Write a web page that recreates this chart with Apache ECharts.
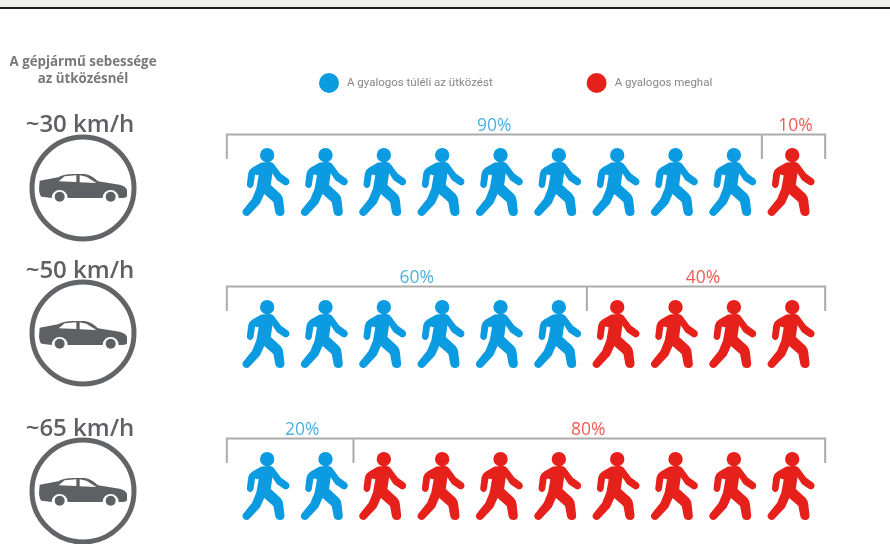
<!DOCTYPE html>
<html><head><meta charset="utf-8">
<style>html,body{margin:0;padding:0;background:#fff}#c{width:890px;height:544px;filter:blur(.45px)}</style>
<script src="https://cdn.jsdelivr.net/npm/echarts@6/dist/echarts.min.js"></script>
</head><body><div id="c"></div>
<script>
const speeds = ['~30 km/h', '~50 km/h', '~65 km/h'];
const survivePct = [90, 60, 20];
const diePct = [10, 40, 80];
const surviveName = 'A gyalogos túléli az ütközést';
const dieName = 'A gyalogos meghal';
const panelTitle = 'A gépjármű sebessége\naz ütközésnél';
const BLUE = '#0b9be0', RED = '#e6201b', GREY = '#5f6064';

const PERSON = 'path://M122 153 L150 152 Q157 153 161 159 L182 187 L205 204 Q211 212 206 219 Q200 226 192 222 L170 208 L156 186 L151 222 L181 250 Q188 258 189 268 L193 303 Q193 316 180 317 Q168 317 165 306 L159 274 L131 250 L118 279 L85 314 Q77 320 69 314 Q61 307 67 298 L94 264 L107 232 L114 192 L103 190 L98 224 Q95 232 88 231 Q77 229 78 219 L82 186 Q84 176 95 169 Z M118 131 A22 22 0 1 1 162 131 A22 22 0 1 1 118 131 Z';

const people = (i, from, n) => Array.from({length: n}, (_, k) => [(from + k) * 10 + 5, speeds[i]]);
const surviveData = speeds.flatMap((_, i) => people(i, 0, survivePct[i] / 10));
const dieData = speeds.flatMap((_, i) => people(i, survivePct[i] / 10, diePct[i] / 10));

// left panel layout (pixel placement of the speed gauges)
const gaugeY = [188, 333, 491], carY = [188, 335, 492], speedLabelY = [125, 271, 429];
const carBody = 'M120 543 L175 533 Q195 523 220 523 L255 523 Q275 525 295 545 L360 555 Q378 560 382 570 L382 590 Q380 595 368 595 L357 595 A24 24 0 0 0 309 595 L204 595 A24 24 0 0 0 156 595 L126 591 Q120 588 118 570 Z';
const carWin = 'M177 545 L195 530 L230 527 L230 547 Z M240 527 L260 531 L290 550 L240 548 Z';
function gauge(params, api) {
  const i = api.value(0), s = speeds[i];
  return {type:'group', children:[
    {type:'text', style:{text:s, x:80, y:speedLabelY[i], align:'center', verticalAlign:'middle',
      font:'600 24px "Open Sans"', fill:GREY}},
    {type:'circle', shape:{cx:83, cy:gaugeY[i], r:51}, style:{fill:'#fff', stroke:'#636468', lineWidth:5}},
    {type:'group', x:83 - 250/3, y:carY[i] - 565/3, scaleX:1/3, scaleY:1/3, children:[
      {type:'path', shape:{pathData:carBody, layout:'cover', x:118, y:523, width:264, height:72}, style:{fill:GREY}},
      {type:'path', shape:{pathData:carWin, layout:'cover', x:177, y:527, width:113, height:23}, style:{fill:'#fff'}},
      {type:'circle', shape:{cx:180, cy:591, r:15}, style:{fill:GREY}},
      {type:'circle', shape:{cx:333, cy:591, r:15}, style:{fill:GREY}}
    ]}
  ]};
}

const labelShift = [[0, 2], [10, -3], [12, -1]];
function brackets(params, api) {
  const i = api.value(0), split = api.value(1), y = api.coord([0, speeds[i]])[1];
  const x0 = api.coord([0, speeds[i]])[0] - 10, x100 = api.coord([100, speeds[i]])[0] + 5;
  const xs = api.coord([split, speeds[i]])[0], top = y - 47.5, bot = y - 23;
  const st = {stroke:'#ababab', lineWidth:2, fill:null};
  const txt = (t, x, c) => ({type:'text', style:{text:t, x, y:top - 8, align:'center', verticalAlign:'middle',
    font:'17.5px "Open Sans"', fill:c}});
  return {type:'group', children:[
    {type:'polyline', shape:{points:[[x0,bot],[x0,top],[x100,top],[x100,bot]]}, style:st},
    {type:'line', shape:{x1:xs, y1:top, x2:xs, y2:bot}, style:st},
    txt(survivePct[i] + '%', (x0 + xs) / 2 + labelShift[i][0], '#4fb1e2'),
    txt(diePct[i] + '%', (xs + x100) / 2 + labelShift[i][1], '#ee5a55')
  ]};
}

const chart = echarts.init(document.getElementById('c'), null, {renderer:'canvas'});
chart.setOption({
  animation:false, backgroundColor:'#fff',
  grid:{left:236.8, width:583.4, top:182, height:304},
  xAxis:{type:'value', min:0, max:100, show:false},
  yAxis:{type:'category', data:speeds, inverse:true, boundaryGap:false, show:false},
  legend:{left:314, top:68, itemWidth:20, itemHeight:20, itemGap:94, icon:'circle',
    data:[surviveName, dieName],
    textStyle:{color:'#85868a', fontSize:11.5, fontFamily:'Roboto', padding:[0,0,0,3]}},
  graphic:{elements:[
    {type:'rect', shape:{x:0,y:0,width:890,height:7}, style:{fill:'#f0f1ec'}},
    {type:'rect', shape:{x:0,y:7,width:890,height:2}, style:{fill:'#1d1d1b'}},
    {type:'text', style:{text:panelTitle, x:83, y:71, align:'center', verticalAlign:'middle', lineHeight:17,
      font:'700 13.3px "Open Sans"', fill:'#77787c'}}
  ]},
  series:[
    {name:surviveName, type:'scatter', data:surviveData, symbol:PERSON, symbolSize:[47,68], itemStyle:{color:BLUE,opacity:1}},
    {name:dieName, type:'scatter', data:dieData, symbol:PERSON, symbolSize:[47,68], itemStyle:{color:RED,opacity:1}},
    {type:'custom', data:survivePct.map((v, i) => [i, v]), renderItem:brackets, clip:false, silent:true,
      encode:{x:1}},
    {type:'custom', coordinateSystem:'none', data:speeds.map((_, i) => [i]), renderItem:gauge, silent:true}
  ]
});
</script></body></html>
